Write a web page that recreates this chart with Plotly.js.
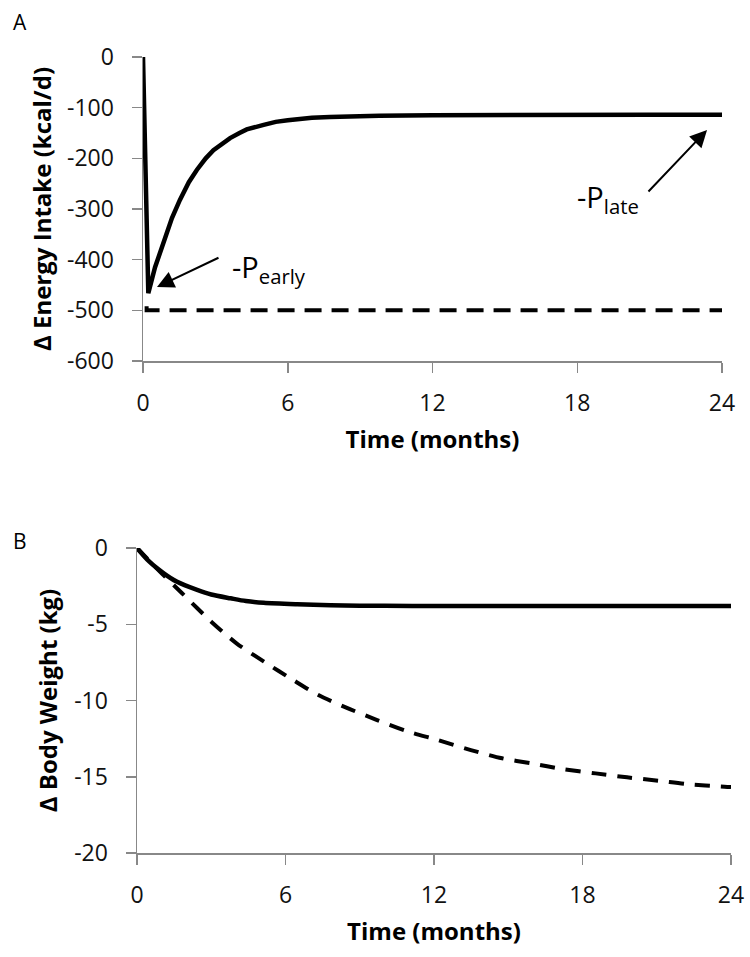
<!DOCTYPE html>
<html>
<head>
<meta charset="utf-8">
<script src="https://cdn.plot.ly/plotly-3.0.1.min.js"></script>
<style>html,body{margin:0;padding:0;background:#fff;}#chart{width:750px;height:957px;}</style>
</head>
<body>
<div id="chart"></div>
<script>
// Panel A: change in energy intake (kcal/d)
const monthsA = [0, 0.22, 0.5, 0.84, 1.2, 1.53, 1.9, 2.23, 2.6, 2.92, 3.3, 3.61, 4.0, 4.3, 5.0, 5.5, 6.0, 6.5, 7.0, 7.75, 8.5, 9.8, 12, 15, 18, 21, 24];
const intakeA = [0, -466, -415, -370, -318, -282, -247, -223, -200, -184, -170, -160, -150, -143, -134, -128, -125, -122, -120, -118.5, -117, -116, -115, -114, -114, -114, -114];
const monthsAdash = [0.15, 0.15, 24];
const intakeAdash = [-492, -500, -500];

// Panel B: change in body weight (kg)
const monthsB = [0, 0.5, 1.08, 1.6, 2.43, 3.0, 3.78, 4.4, 5.12, 6.47, 7.82, 9, 10, 12, 15, 18, 21, 24];
const weightB = [0, -0.9, -1.66, -2.2, -2.75, -3.05, -3.3, -3.48, -3.59, -3.69, -3.76, -3.78, -3.79, -3.8, -3.8, -3.8, -3.8, -3.8];
const monthsBdash = [0, 1.08, 1.81, 3.0, 4.02, 5.13, 6.31, 7.33, 8.36, 9.7, 10.96, 12.15, 13.49, 14.75, 15.93, 17.19, 18.53, 19.8, 21.06, 22.3, 23.74, 24];
const weightBdash = [0, -1.8, -2.95, -4.83, -6.25, -7.45, -8.66, -9.64, -10.4, -11.28, -12.04, -12.59, -13.25, -13.79, -14.12, -14.49, -14.78, -15.04, -15.26, -15.5, -15.65, -15.67];

const xTicks = [0, 6, 12, 18, 24];
const xTickText = ['0', '6', '12', '18', '24'];
const yTicksA = [0, -100, -200, -300, -400, -500, -600];
const yTickTextA = ['0', '-100', '-200', '-300', '-400', '-500', '-600'];
const yTicksB = [0, -5, -10, -15, -20];
const yTickTextB = ['0', '-5', '-10', '-15', '-20'];

const titleA = 'Δ Energy Intake (kcal/d)';
const titleB = 'Δ Body Weight (kg)';
const titleX = 'Time (months)';

const FONT = 'Open Sans, Noto Sans, sans-serif';
const AX = '#888888';

const traces = [
  {x: monthsAdash, y: intakeAdash, xaxis: 'x', yaxis: 'y', mode: 'lines',
   line: {color: '#000', width: 4, dash: '17px,10px'}, hoverinfo: 'skip'},
  {x: monthsA, y: intakeA, xaxis: 'x', yaxis: 'y', mode: 'lines',
   line: {color: '#000', width: 4.5}, hoverinfo: 'skip'},
  {x: monthsBdash, y: weightBdash, xaxis: 'x2', yaxis: 'y2', mode: 'lines',
   line: {color: '#000', width: 4, dash: '15px,11px', shape: 'spline', smoothing: 0.8}, hoverinfo: 'skip'},
  {x: monthsB, y: weightB, xaxis: 'x2', yaxis: 'y2', mode: 'lines',
   line: {color: '#000', width: 4.5, shape: 'spline', smoothing: 0.8}, hoverinfo: 'skip'}
];

function xaxisDef(domain, anchor) {
  return {
    domain: domain, anchor: anchor, range: [0, 24], tickvals: xTicks, ticktext: xTickText,
    showgrid: false, zeroline: false, showline: true, linecolor: AX, linewidth: 1.5,
    ticks: 'outside', ticklen: 10, tickwidth: 1.5, tickcolor: AX,
    ticklabelstandoff: 11,
    tickfont: {family: FONT, size: 23, color: '#111'},
    title: {text: '<b>' + titleX + '</b>', font: {family: FONT, size: 24, color: '#000'}, standoff: 14}
  };
}
function yaxisDef(domain, anchor, range, ticks, ticktext, title, standoff) {
  return {
    domain: domain, anchor: anchor, range: range, tickvals: ticks, ticktext: ticktext,
    showgrid: false, zeroline: false, showline: true, linecolor: AX, linewidth: 1.5,
    ticks: 'outside', ticklen: 10, tickwidth: 1.5, tickcolor: AX,
    ticklabelstandoff: 13,
    tickfont: {family: FONT, size: 23, color: '#111'},
    title: {text: '<b>' + title + '</b>', font: {family: FONT, size: 24, color: '#000'}, standoff: standoff}
  };
}

const W = 750, H = 957;
const layout = {
  width: W, height: H,
  margin: {l: 0, r: 0, t: 0, b: 0, autoexpand: false},
  paper_bgcolor: '#fff', plot_bgcolor: '#fff',
  showlegend: false,
  font: {family: FONT, color: '#000'},
  xaxis: xaxisDef([143 / W, 722 / W], 'y'),
  yaxis: yaxisDef([1 - 361 / H, 1 - 57 / H], 'x', [-600, 0], yTicksA, yTickTextA, titleA, 8),
  xaxis2: xaxisDef([137 / W, 731 / W], 'y2'),
  yaxis2: yaxisDef([1 - 853 / H, 1 - 548 / H], 'x2', [-20, 0], yTicksB, yTickTextB, titleB, 10),
  annotations: [
    {xref: 'paper', yref: 'paper', x: 20 / W, y: 1 - 22 / H, text: 'A', showarrow: false,
     font: {family: FONT, size: 21, color: '#000'}, xanchor: 'center', yanchor: 'middle'},
    {xref: 'paper', yref: 'paper', x: 20 / W, y: 1 - 541 / H, text: 'B', showarrow: false,
     font: {family: FONT, size: 21, color: '#000'}, xanchor: 'center', yanchor: 'middle'},
    // -P early label and arrow
    {xref: 'x', yref: 'y', x: 3.6, y: -418, text: '-P<sub>early</sub>', showarrow: false,
     xanchor: 'left', yanchor: 'middle', font: {family: FONT, size: 29, color: '#000'}},
    {xref: 'x', yref: 'y', x: 0.58, y: -454, text: '', showarrow: true, ax: 63, ay: -30,
     arrowhead: 2, arrowsize: 1.7, arrowwidth: 2, arrowcolor: '#000', standoff: 0},
    // -P late label and arrow
    {xref: 'x', yref: 'y', x: 17.9, y: -280, text: '-P<sub>late</sub>', showarrow: false,
     xanchor: 'left', yanchor: 'middle', font: {family: FONT, size: 29, color: '#000'}},
    {xref: 'x', yref: 'y', x: 23.38, y: -144, text: '', showarrow: true, ax: -60, ay: 63,
     arrowhead: 2, arrowsize: 1.7, arrowwidth: 2, arrowcolor: '#000', standoff: 0}
  ]
};

Plotly.newPlot('chart', traces, layout, {staticPlot: true, displayModeBar: false});
</script>
</body>
</html>
